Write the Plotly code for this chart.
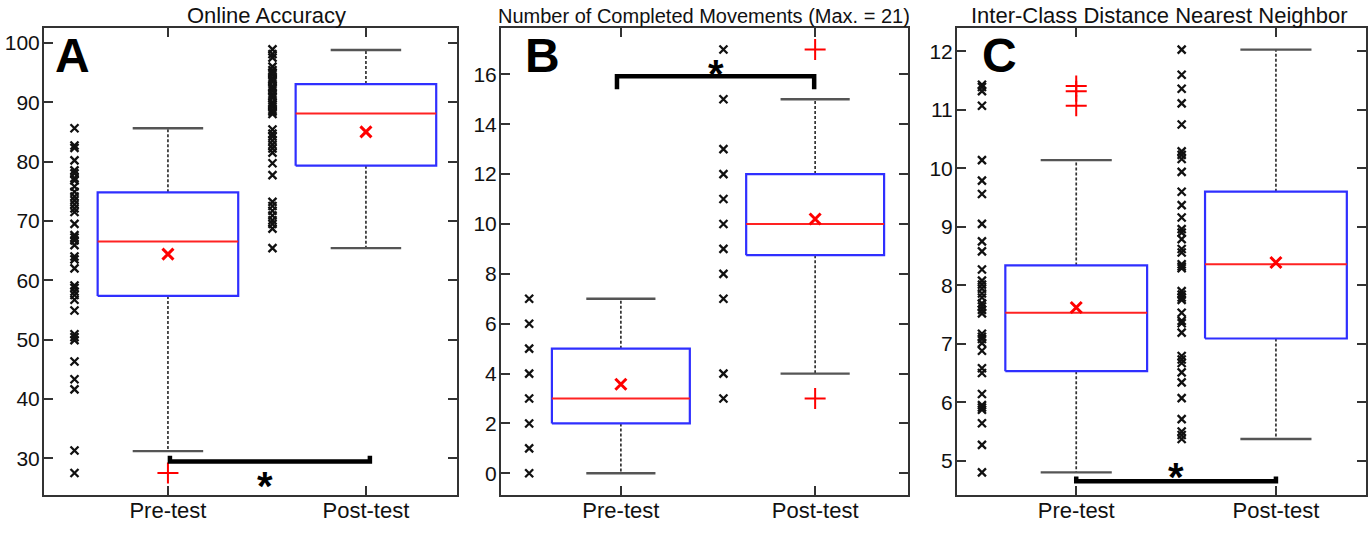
import plotly.graph_objects as go

FONT = "Liberation Sans, Arial, sans-serif"
groups = ["Pre-test", "Post-test"]

# ---------------- Panel A: Online Accuracy ----------------
a_pre_dots = [85.6, 82.7, 82.3, 80.2, 78.5, 78.0, 77.2, 76.8, 75.8, 74.9, 74.1, 73.5, 72.8,
              72.1, 71.5, 69.5, 67.6, 67.2, 66.7, 65.9, 64.0, 63.5, 62.0, 59.1, 58.7, 58.1,
              57.5, 56.7, 54.9, 50.9, 50.4, 49.9, 46.3, 43.3, 41.6, 31.3, 27.5]
a_post_dots = [98.9, 98.1, 97.5, 96.0, 95.4, 95.0, 94.7, 94.1, 93.8, 93.4, 92.7, 92.4, 92.0,
               91.4, 91.0, 90.7, 90.0, 89.6, 89.3, 88.7, 88.4, 88.0, 85.4, 84.7, 84.2, 83.5,
               82.8, 82.2, 81.5, 79.7, 77.7, 73.2, 72.5, 71.7, 70.9, 70.1, 69.5, 68.7, 65.4]
a_q1 = [57.35, 79.3]
a_median = [66.5, 88.1]
a_q3 = [74.8, 93.05]
a_whisk_lo = [31.2, 65.4]
a_whisk_hi = [85.6, 98.8]
a_mean = [64.4, 85.0]
a_outliers = [[27.5], []]

# ---------------- Panel B: Completed Movements ----------------
b_pre_dots = [0, 1, 2, 3, 4, 5, 6, 7]
b_post_dots = [3, 4, 7, 8, 9, 10, 11, 12, 13, 15, 17]
b_q1 = [2, 8.75]
b_median = [3, 10]
b_q3 = [5, 12]
b_whisk_lo = [0, 4]
b_whisk_hi = [7, 15]
b_mean = [3.57, 10.2]
b_outliers = [[], [17, 3]]

# ---------------- Panel C: Inter-Class Distance ----------------
c_pre_dots = [11.43, 11.39, 11.32, 11.07, 10.14, 9.79, 9.56, 9.05, 8.75, 8.58, 8.27, 8.08,
              8.01, 7.94, 7.86, 7.79, 7.69, 7.64, 7.58, 7.52, 7.17, 7.12, 7.08, 7.01, 6.88,
              6.58, 6.50, 6.14, 5.95, 5.91, 5.87, 5.64, 5.27, 4.80]
c_post_dots = [12.03, 11.60, 11.36, 11.11, 10.75, 10.29, 10.23, 10.16, 9.94, 9.60, 9.37, 9.16,
               8.96, 8.90, 8.79, 8.62, 8.56, 8.36, 8.32, 8.29, 7.90, 7.84, 7.79, 7.75, 7.53,
               7.39, 7.35, 7.19, 6.79, 6.73, 6.67, 6.51, 6.34, 6.07, 5.71, 5.50, 5.44, 5.37]
c_q1 = [6.53, 7.09]
c_median = [7.53, 8.36]
c_q3 = [8.34, 9.60]
c_whisk_lo = [4.80, 5.37]
c_whisk_hi = [10.14, 12.03]
c_mean = [7.62, 8.39]
c_outliers = [[11.41, 11.32, 11.07], []]

titles = ["Online Accuracy", "Number of Completed Movements (Max. = 21)",
          "Inter-Class Distance Nearest Neighbor"]
letters = ["A", "B", "C"]

# significance brackets: (x_left, x_right, y_bar, y_end, x_star, y_star)
sig = [
    (1.01, 2.02, 29.43, 30.4, 1.49, 26.5),
    (0.98, 1.995, 15.92, 15.4, 1.49, 16.3),
    (1.0, 2.0, 4.65, 4.73, 1.5, 4.84),
]

panels = [
    dict(pre=a_pre_dots, post=a_post_dots, q1=a_q1, med=a_median, q3=a_q3, lo=a_whisk_lo,
         hi=a_whisk_hi, mean=a_mean, out=a_outliers),
    dict(pre=b_pre_dots, post=b_post_dots, q1=b_q1, med=b_median, q3=b_q3, lo=b_whisk_lo,
         hi=b_whisk_hi, mean=b_mean, out=b_outliers),
    dict(pre=c_pre_dots, post=c_post_dots, q1=c_q1, med=c_median, q3=c_q3, lo=c_whisk_lo,
         hi=c_whisk_hi, mean=c_mean, out=c_outliers),
]

W, H = 1370, 533
frames_px = [(44, 457), (501, 908), (957, 1366)]
y_top, y_bot = 28, 495
x_ranges = [[0.374, 2.460], [0.383, 2.478], [0.403, 2.451]]
y_ranges = [[23.8, 102.5], [-0.87, 17.86], [4.413, 12.40]]
y_dticks = [10, 2, 1]
title_cx = [266, 704, 1159]
title_sizes = [22, 20, 22]
letter_pos = [(72, 55), (542, 55), (999, 55)]

BOX_HW = 0.355
CAP_HW = 0.178
DOT_OFF = 0.472
BLUE = "#2f2fff"
RED = "#ff2222"


def px_x(v):
    return v / W


def px_y(v):
    return 1 - v / H


fig = go.Figure()

for i, p in enumerate(panels):
    sfx = "" if i == 0 else str(i + 1)
    xa, ya = "x" + sfx, "y" + sfx
    common = dict(xaxis=xa, yaxis=ya, showlegend=False, hoverinfo="skip")
    # raw data dots
    for g, key in enumerate(["pre", "post"]):
        c = g + 1
        fig.add_trace(go.Scatter(x=[c - DOT_OFF] * len(p[key]), y=p[key], mode="markers",
                                 marker=dict(symbol="x-thin", size=8,
                                             line=dict(width=2.3, color="#111")), **common))
    for g in range(2):
        c = g + 1
        # whiskers (dashed)
        fig.add_trace(go.Scatter(x=[c, c, None, c, c],
                                 y=[p["q3"][g], p["hi"][g], None, p["q1"][g], p["lo"][g]],
                                 mode="lines", line=dict(color="#333", width=1.7, dash="3px,2px"),
                                 **common))
        # caps
        fig.add_trace(go.Scatter(x=[c - CAP_HW, c + CAP_HW, None, c - CAP_HW, c + CAP_HW],
                                 y=[p["hi"][g], p["hi"][g], None, p["lo"][g], p["lo"][g]],
                                 mode="lines", line=dict(color="#555", width=2.4), **common))
        # box
        fig.add_trace(go.Scatter(x=[c - BOX_HW, c + BOX_HW, c + BOX_HW, c - BOX_HW, c - BOX_HW],
                                 y=[p["q1"][g], p["q1"][g], p["q3"][g], p["q3"][g], p["q1"][g]],
                                 mode="lines", line=dict(color=BLUE, width=2.2), **common))
        # median
        fig.add_trace(go.Scatter(x=[c - BOX_HW, c + BOX_HW], y=[p["med"][g], p["med"][g]],
                                 mode="lines", line=dict(color=RED, width=2), **common))
        # mean
        fig.add_trace(go.Scatter(x=[c], y=[p["mean"][g]], mode="markers",
                                 marker=dict(symbol="x-thin", size=11,
                                             line=dict(width=3, color="#ff0000")), **common))
        # outliers
        if p["out"][g]:
            fig.add_trace(go.Scatter(x=[c] * len(p["out"][g]), y=p["out"][g], mode="markers",
                                     marker=dict(symbol="cross-thin", size=15,
                                                 line=dict(width=2, color="#ff0000")), **common))
    # significance bracket
    xl, xr, yb, ye, xs, ys = sig[i]
    fig.add_trace(go.Scatter(x=[xl, xl, xr, xr], y=[ye, yb, yb, ye], mode="lines",
                             line=dict(color="#000", width=4.5), **common))
    fig.add_annotation(x=xs, y=ys, xref=xa, yref=ya, text="<b>*</b>", showarrow=False,
                       font=dict(size=40, family=FONT, color="#000"), yanchor="middle",
                       yshift=-7)

    x0, x1 = frames_px[i]
    xdom = [px_x(x0), px_x(x1)]
    ydom = [px_y(y_bot), px_y(y_top)]
    axis_common = dict(showline=True, linewidth=2, linecolor="#333", mirror="ticks",
                       ticks="inside", ticklen=9, tickwidth=2, tickcolor="#333",
                       showgrid=False, zeroline=False, automargin=False)
    fig.update_layout(**{
        "xaxis" + sfx: dict(domain=xdom, range=x_ranges[i], anchor=ya, tickvals=[1, 2],
                            ticktext=groups, ticklabelstandoff=-5,
                            tickfont=dict(size=22, family=FONT, color="#111"), **axis_common),
        "yaxis" + sfx: dict(domain=ydom, range=y_ranges[i], anchor=xa, dtick=y_dticks[i],
                            tick0=0, ticklabelstandoff=-2,
                            tickfont=dict(size=21, family=FONT, color="#111"), **axis_common),
    })
    fig.add_annotation(x=px_x(title_cx[i]), y=px_y(16), xref="paper", yref="paper",
                       text=titles[i], showarrow=False,
                       font=dict(size=title_sizes[i], family=FONT, color="#111"),
                       xanchor="center", yanchor="middle")
    lx, ly = letter_pos[i]
    fig.add_annotation(x=px_x(lx), y=px_y(ly), xref="paper", yref="paper",
                       text="<b>" + letters[i] + "</b>", showarrow=False,
                       font=dict(size=48, family=FONT, color="#000"),
                       xanchor="center", yanchor="middle")

fig.update_layout(width=W, height=H, margin=dict(l=0, r=0, t=0, b=0),
                  paper_bgcolor="white", plot_bgcolor="white",
                  font=dict(family=FONT), hovermode=False)

fig.write_html("out.html", config={"displayModeBar": False},
               post_script="document.body.style.margin='0px';")
